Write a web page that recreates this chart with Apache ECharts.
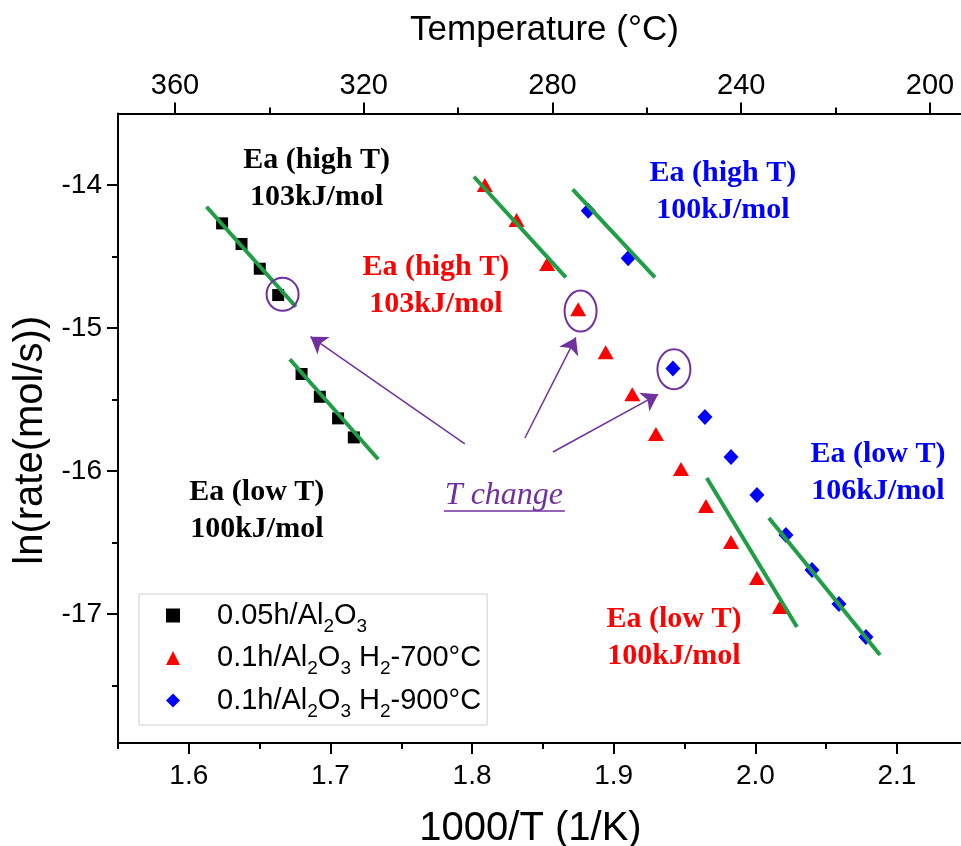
<!DOCTYPE html>
<html><head><meta charset="utf-8">
<script src="https://cdn.jsdelivr.net/npm/echarts@6/dist/echarts.min.js"></script>
<style>html,body{margin:0;padding:0;background:#fff}#c{width:961px;height:846px}</style>
</head><body><div id="c"></div>
<script>
// ---- data (x = 1000/T in 1/K, y = ln(rate) ) ----
const seriesNames = ['0.05h/Al2O3', '0.1h/Al2O3 H2-700°C', '0.1h/Al2O3 H2-900°C'];
const blackX = [1.6235, 1.6372, 1.6501, 1.6631, 1.6796, 1.6925, 1.7054, 1.7165];
const blackY = [-14.268, -14.412, -14.585, -14.769, -15.321, -15.480, -15.631, -15.764];
const redX = [1.8090, 1.8314, 1.8530, 1.8749, 1.8943, 1.9131, 1.9298, 1.9475, 1.9651, 1.9828, 2.0011, 2.0174];
const redY = [-14.000, -14.245, -14.552, -14.869, -15.169, -15.463, -15.740, -15.985, -16.244, -16.495, -16.747, -16.950];
const blueX = [1.8820, 1.9102, 1.9418, 1.9644, 1.9828, 2.0011, 2.0216, 2.0400, 2.0590, 2.0781];
const blueY = [-14.180, -14.512, -15.283, -15.622, -15.901, -16.167, -16.446, -16.691, -16.929, -17.159];

// Arrhenius fit segments (endpoints)
const fitBlackHighX = [1.6125, 1.6756], fitBlackHighY = [-14.152, -14.851];
const fitBlackLowX  = [1.6713, 1.7337], fitBlackLowY  = [-15.218, -15.917];
const fitRedHighX   = [1.8013, 1.8662], fitRedHighY   = [-13.942, -14.645];
const fitBlueHighX  = [1.8710, 1.9291], fitBlueHighY  = [-14.030, -14.645];
const fitRedLowX    = [1.9657, 2.0294], fitRedLowY    = [-16.048, -17.089];
const fitBlueLowX   = [2.0096, 2.0880], fitBlueLowY   = [-16.328, -17.285];

// axes
const xMin = 1.55, xMax = 2.1452;
const yMin = -17.9, yMax = -13.5;
const tempMin = 193.43, tempMax = 372.08;
const xMajorTicks = [1.6, 1.7, 1.8, 1.9, 2.0, 2.1];
const xMinorTicks = [1.55, 1.65, 1.75, 1.85, 1.95, 2.05];
const yMajorTicks = [-14, -15, -16, -17];
const yMinorTicks = [-14.5, -15.5, -16.5, -17.5];
const tempMajorTicks = [360, 320, 280, 240, 200];
const tempMinorTicks = [340, 300, 260, 220];

// annotations (anchors in data units)
const annotText = ['Ea (high T)\n103kJ/mol', 'Ea (low T)\n100kJ/mol', 'Ea (high T)\n103kJ/mol', 'Ea (low T)\n100kJ/mol', 'Ea (high T)\n100kJ/mol', 'Ea (low T)\n106kJ/mol'];
const annotColor = ['#000000', '#000000', '#ff0000', '#ff0000', '#0000ff', '#0000ff'];
const annotX = [1.6902, 1.6480, 1.7744, 1.9425, 1.9771, 2.0866];
const annotY = [-13.955, -16.275, -14.706, -17.166, -14.045, -16.013];
const changeText = 'T change';
const changeX = 1.8225, changeY = -16.174;
const underlineX = [1.7801, 1.8655], underlineY = [-16.279, -16.279];
const circleX = [1.6662, 1.8766, 1.9425];
const circleY = [-14.764, -14.881, -15.288];
const arrowFromX = [1.7949, 1.8373, 1.8571], arrowFromY = [-15.810, -15.768, -15.866];
const arrowToX = [1.6859, 1.8733, 1.9314], arrowToY = [-15.060, -15.065, -15.463];

// ---- chart ----
const SANS = 'Liberation Sans, Arial, sans-serif';
const SERIF = 'Liberation Serif, Times New Roman, serif';
const PURPLE = '#7030A0';
const GREEN = '#1f9e45';
const pts = (xs, ys) => xs.map((x, i) => [x, ys[i]]);
const fit = (xs, ys) => ({
  type: 'line', data: pts(xs, ys), symbol: 'none', z: 5, silent: true,
  lineStyle: {color: GREEN, width: 4, opacity: 1}, xAxisIndex: 0, yAxisIndex: 0
});
const axisLineStyle = {color: '#000', width: 2};

const option = {
  animation: false,
  backgroundColor: '#fff',
  grid: {left: 118, top: 113.5, width: 843, height: 629.5, containLabel: false, outerBoundsMode: 'none'},
  legend: {
    data: seriesNames, orient: 'vertical', left: 139, top: 594,
    padding: [1, 6, 4, 27], itemGap: 1.5, itemWidth: 14, itemHeight: 14,
    borderColor: '#cfcfcf', borderWidth: 1, backgroundColor: '#fff',
    formatter: n => n.replace('Al2O3', 'Al{s|2}O{s|3}').replace('H2-', 'H{s|2}-'),
    textStyle: {
      fontFamily: SANS, fontSize: 29, color: '#000', lineHeight: 30, padding: [0, 0, 0, 32],
      rich: {s: {fontFamily: SANS, fontSize: 19, lineHeight: 30, color: '#000', padding: [22, 0, 0, 0]}}
    }
  },
  xAxis: [
    {type: 'value', position: 'bottom', min: xMin, max: xMax,
     axisLine: {lineStyle: axisLineStyle},
     axisTick: {customValues: xMajorTicks, length: 11, lineStyle: axisLineStyle},
     axisLabel: {customValues: xMajorTicks, formatter: v => v.toFixed(1), fontFamily: SANS, fontSize: 28, color: '#000', margin: 19},
     splitLine: {show: false},
     name: '1000/T (1/K)', nameLocation: 'middle', nameGap: 66,
     nameTextStyle: {fontFamily: SANS, fontSize: 40, color: '#000', padding: [0, 18, 0, 0]}},
    {type: 'value', position: 'bottom', min: xMin, max: xMax,
     axisLine: {show: false},
     axisTick: {customValues: xMinorTicks, length: 6, lineStyle: axisLineStyle},
     axisLabel: {show: false}, splitLine: {show: false}},
    {type: 'value', position: 'top', min: tempMin, max: tempMax, inverse: true,
     axisLine: {lineStyle: axisLineStyle},
     axisTick: {customValues: tempMajorTicks, length: 11, lineStyle: axisLineStyle},
     axisLabel: {customValues: tempMajorTicks, fontFamily: SANS, fontSize: 29, color: '#000', margin: 13},
     splitLine: {show: false},
     name: 'Temperature (°C)', nameLocation: 'middle', nameGap: 66,
     nameTextStyle: {fontFamily: SANS, fontSize: 35, color: '#000', padding: [0, 0, 0, 10]}},
    {type: 'value', position: 'top', min: tempMin, max: tempMax, inverse: true,
     axisLine: {show: false},
     axisTick: {customValues: tempMinorTicks, length: 6, lineStyle: axisLineStyle},
     axisLabel: {show: false}, splitLine: {show: false}}
  ],
  yAxis: [
    {type: 'value', position: 'left', min: yMin, max: yMax,
     axisLine: {show: true, lineStyle: axisLineStyle},
     axisTick: {show: true, customValues: yMajorTicks, length: 11, lineStyle: axisLineStyle},
     axisLabel: {customValues: yMajorTicks, fontFamily: SANS, fontSize: 28, color: '#000', margin: 16},
     splitLine: {show: false},
     name: 'ln(rate(mol/s))', nameLocation: 'middle', nameGap: 66,
     nameTextStyle: {fontFamily: SANS, fontSize: 40, color: '#000', padding: [0, 24, 0, 0]}},
    {type: 'value', position: 'left', min: yMin, max: yMax,
     axisLine: {show: false},
     axisTick: {show: true, customValues: yMinorTicks, length: 6, lineStyle: axisLineStyle},
     axisLabel: {show: false}, splitLine: {show: false}}
  ],
  series: [
    {name: seriesNames[0], type: 'scatter', data: pts(blackX, blackY), symbol: 'rect', symbolSize: 12,
     itemStyle: {color: '#000', opacity: 1}, xAxisIndex: 0, yAxisIndex: 0, z: 3},
    {name: seriesNames[1], type: 'scatter', data: pts(redX, redY), symbol: 'triangle', symbolSize: [16, 14],
     itemStyle: {color: '#ff0000', opacity: 1}, xAxisIndex: 0, yAxisIndex: 0, z: 3},
    {name: seriesNames[2], type: 'scatter', data: pts(blueX, blueY), symbol: 'diamond', symbolSize: [15, 16],
     itemStyle: {color: '#0000ff', opacity: 1}, xAxisIndex: 0, yAxisIndex: 0, z: 3},
    fit(fitBlackHighX, fitBlackHighY), fit(fitBlackLowX, fitBlackLowY),
    fit(fitRedHighX, fitRedHighY), fit(fitBlueHighX, fitBlueHighY),
    fit(fitRedLowX, fitRedLowY), fit(fitBlueLowX, fitBlueLowY),
    {type: 'scatter', silent: true, xAxisIndex: 0, yAxisIndex: 0, z: 8,
     symbolSize: 1, itemStyle: {color: 'rgba(0,0,0,0)', opacity: 1},
     data: annotX.map((x, i) => ({
       value: [x, annotY[i]],
       label: {show: true, position: 'inside', formatter: annotText[i], color: annotColor[i], opacity: 1,
               fontFamily: SERIF, fontWeight: 'bold', fontSize: 30, lineHeight: 37}
     }))},
    {type: 'scatter', silent: true, xAxisIndex: 0, yAxisIndex: 0, z: 8,
     symbolSize: 1, itemStyle: {color: 'rgba(0,0,0,0)', opacity: 1},
     data: [{value: [changeX, changeY],
             label: {show: true, position: 'inside', formatter: changeText, color: PURPLE, opacity: 1,
                     fontFamily: SERIF, fontStyle: 'italic', fontSize: 32}}]},
    {type: 'line', silent: true, data: pts(underlineX, underlineY), symbol: 'none',
     lineStyle: {color: PURPLE, width: 1.5, opacity: 1}, xAxisIndex: 0, yAxisIndex: 0, z: 8},
    {type: 'lines', coordinateSystem: 'cartesian2d', xAxisIndex: 0, yAxisIndex: 0, silent: true, z: 9,
     symbol: ['none', 'arrow'], symbolSize: 16,
     lineStyle: {color: PURPLE, width: 1.5, opacity: 1, curveness: 0},
     data: arrowFromX.map((x, i) => ({coords: [[x, arrowFromY[i]], [arrowToX[i], arrowToY[i]]]}))}
  ]
};

const chart = echarts.init(document.getElementById('c'), null, {renderer: 'canvas'});
chart.setOption(option);
const circleW = [32, 32, 33], circleH = [33, 41, 40];
chart.setOption({
  graphic: circleX.map((x, i) => {
    const p = chart.convertToPixel({xAxisIndex: 0, yAxisIndex: 0}, [x, circleY[i]]);
    return {type: 'ellipse', silent: true, z: 20,
            shape: {cx: p[0], cy: p[1], rx: circleW[i] / 2, ry: circleH[i] / 2},
            style: {fill: 'none', stroke: PURPLE, lineWidth: 2}};
  })
});
</script>
</body></html>
